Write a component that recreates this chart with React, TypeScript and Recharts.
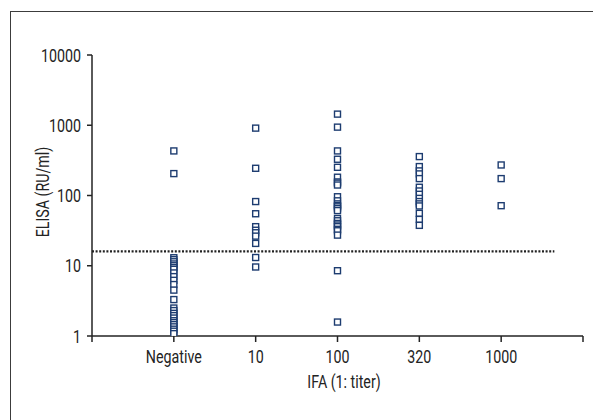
import React from 'react';
import { ScatterChart, Scatter, XAxis, YAxis, ReferenceLine } from 'recharts';

const categories = ['Negative', '10', '100', '320', '1000'];

const negativeValues = [
  431, 205, 13, 12.2, 11.4, 10.6, 10, 9.4, 8.9, 7.9, 7, 6.2, 5.4, 4.5, 3.3, 2.5, 2.3, 2.1, 1.95, 1.8,
  1.65, 1.55, 1.45, 1.35, 1.25, 1.17, 1.08,
];
const titer10Values = [910, 244, 82, 55, 36, 32, 29.5, 26.4, 20.8, 13.1, 9.6];
const titer100Values = [
  1440, 940, 431, 328, 252, 182, 156, 150, 141, 96, 84, 76, 72, 69, 65, 61, 47, 43.7, 40, 38, 36, 33,
  31.5, 27.3, 8.5, 1.58,
];
const titer320Values = [358, 258, 224, 203, 174, 131, 116, 104, 91, 82, 76, 71, 55.7, 45.7, 37.6];
const titer1000Values = [272, 174, 71.6];

const yTicks = [1, 10, 100, 1000, 10000];
const cutoff = 16;

const seriesValues = [negativeValues, titer10Values, titer100Values, titer320Values, titer1000Values];

const points = seriesValues.flatMap((values, i) => values.map((v) => ({ x: i + 1, y: v })));

const FONT = 'Roboto, "DejaVu Sans", sans-serif';
const FS = 18.5;
const SQUEEZE = 0.77; // reference uses a condensed face
const INK = '#232323';
const MARK = '#1d3c70';

function Square(props: any) {
  const { cx, cy } = props;
  if (cx == null || cy == null) return null;
  return <rect x={cx - 3} y={cy - 3} width={6} height={6} fill="#fff" stroke={MARK} strokeWidth={1.4} />;
}

function NarrowText({ x, y, anchor, dy, rotate, children }: any) {
  return (
    <g transform={`translate(${x},${y})${rotate ? ` rotate(${rotate})` : ''}`}>
      <text transform={`scale(${SQUEEZE},1)`} textAnchor={anchor} dy={dy} fill={INK} fontSize={FS} fontFamily={FONT}>
        {children}
      </text>
    </g>
  );
}

function XTick(props: any) {
  const { x, y, payload } = props;
  const v = payload.value;
  const label = v >= 1 && v <= 5 ? categories[v - 1] : '';
  if (!label) return null;
  return (
    <NarrowText x={x} y={y} anchor="middle" dy="0.71em">
      {label}
    </NarrowText>
  );
}

function YTick(props: any) {
  const { x, y, payload } = props;
  return (
    <NarrowText x={x} y={y} anchor="end" dy="0.36em">
      {payload.value}
    </NarrowText>
  );
}

export default function App() {
  return (
    <div style={{ position: 'absolute', left: 0, top: 0, width: 593, height: 420, overflow: 'hidden', background: '#fff' }}>
      <div
        style={{
          position: 'absolute',
          left: 10,
          top: 11,
          width: 620,
          height: 460,
          border: '1.5px solid #3c3c3c',
        }}
      />
      <div style={{ position: 'absolute', left: 0, top: 0 }}>
        <ScatterChart width={593} height={420} margin={{ top: 55, right: 10, bottom: 20, left: 32 }}>
          <XAxis
            type="number"
            dataKey="x"
            domain={[0, 6]}
            ticks={[0, 1, 2, 3, 4, 5, 6]}
            interval={0}
            height={64}
            axisLine={{ stroke: INK, strokeWidth: 1.5 }}
            tickLine={{ stroke: INK, strokeWidth: 1.5 }}
            tickSize={6}
            tickMargin={8}
            tick={<XTick />}
            label={{
              content: () => (
                <NarrowText x={344} y={388} anchor="middle">
                  IFA (1: titer)
                </NarrowText>
              ),
            }}
          />
          <YAxis
            type="number"
            dataKey="y"
            scale="log"
            domain={[1, 10000]}
            ticks={yTicks}
            interval={0}
            allowDataOverflow
            width={60}
            axisLine={{ stroke: INK, strokeWidth: 1.5 }}
            tickLine={{ stroke: INK, strokeWidth: 1.5 }}
            tickSize={5}
            tickMargin={6}
            tick={<YTick />}
            label={{
              content: () => (
                <NarrowText x={49} y={192} anchor="middle" rotate={-90}>
                  ELISA (RU/ml)
                </NarrowText>
              ),
            }}
          />
          <ReferenceLine
            segment={[
              { x: 0, y: cutoff },
              { x: 5.65, y: cutoff },
            ]}
            stroke="#222"
            strokeWidth={2.2}
            strokeDasharray="2 1.6"
          />
          <Scatter data={points} shape={<Square />} isAnimationActive={false} />
        </ScatterChart>
      </div>
    </div>
  );
}
